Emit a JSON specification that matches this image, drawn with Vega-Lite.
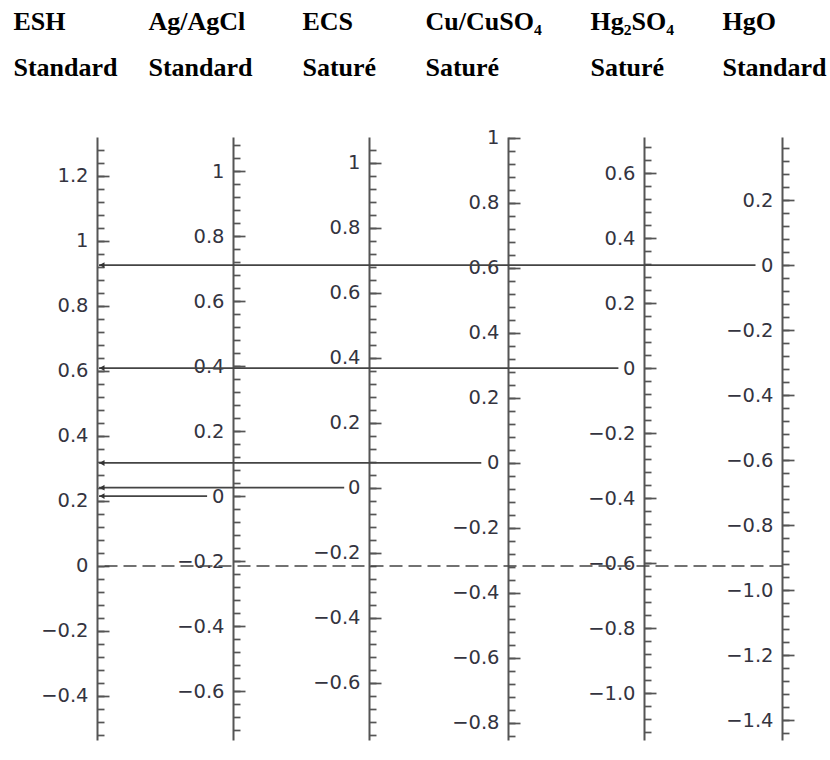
{
  "$schema": "https://vega.github.io/schema/vega-lite/v6.json",
  "width": 830,
  "height": 603,
  "autosize": "none",
  "padding": {"left": 0, "top": 137, "right": 0, "bottom": 20},
  "background": "white",
  "config": {
    "view": {"stroke": null},
    "axisY": {
      "labelFont": "DejaVu Sans",
      "labelFontSize": 19.5,
      "labelColor": "#34343f",
      "labelAlign": "right",
      "labelBaseline": "middle",
      "labelOverlap": false,
      "tickColor": "#555555",
      "tickWidth": 1.7,
      "domainColor": "#555555",
      "domainWidth": 2,
      "grid": false,
      "titleFont": "Liberation Serif",
      "titleFontWeight": "bold",
      "titleFontSize": 26,
      "titleColor": "#000000",
      "titleAngle": 0,
      "titleAlign": "left",
      "titleBaseline": "alphabetic",
      "titleLineHeight": 46
    }
  },
  "layer": [
    {
      "data": {"values": [
        {"ref": "Ag/AgCl", "idx": 1, "esh": 0.215},
        {"ref": "ECS", "idx": 2, "esh": 0.241},
        {"ref": "Cu/CuSO4", "idx": 3, "esh": 0.317},
        {"ref": "Hg2SO4", "idx": 4, "esh": 0.609},
        {"ref": "HgO", "idx": 5, "esh": 0.926}
      ]},
      "mark": {"type": "rule", "color": "#444444", "strokeWidth": 1.7, "xOffset": -27, "x2Offset": 2},
      "encoding": {
        "x": {"field": "idx", "type": "quantitative", "scale": {"domain": [-0.70751, 5.34646], "nice": false, "zero": false}, "axis": null},
        "x2": {"datum": 0},
        "y": {"field": "esh", "type": "quantitative", "scale": {"domain": [-0.5354, 1.32], "nice": false, "zero": false}, "axis": null}
      }
    },
    {
      "data": {"values": [{"v": 0}]},
      "mark": {"type": "point", "opacity": 0},
      "encoding": {"y": {"field": "v", "type": "quantitative",
        "scale": {"domain": [-0.5354, 1.32], "nice": false, "zero": false},
        "axis": {"orient": "right", "offset": -733, "values": [-0.4, -0.2, 0, 0.2, 0.4, 0.6, 0.8, 1, 1.2], "format": ".1~f", "tickSize": 12, "labelPadding": -21,
          "title": ["ESH", "Standard"], "titleX": -84, "titleY": -108}}}
    },
    {
      "data": {"values": [{"v": 0}]},
      "mark": {"type": "point", "opacity": 0},
      "encoding": {"y": {"field": "v", "type": "quantitative",
        "scale": {"domain": [-0.5354, 1.32], "nice": false, "zero": false},
        "axis": {"orient": "right", "offset": -733, "labels": false, "domain": false, "tickSize": 7, "title": null,
          "values": [-0.52, -0.48, -0.44, -0.4, -0.36, -0.32, -0.28, -0.24, -0.2, -0.16, -0.12, -0.08, -0.04, 0, 0.04, 0.08, 0.12, 0.16, 0.2, 0.24, 0.28, 0.32, 0.36, 0.4, 0.44, 0.48, 0.52, 0.56, 0.6, 0.64, 0.68, 0.72, 0.76, 0.8, 0.84, 0.88, 0.92, 0.96, 1, 1.04, 1.08, 1.12, 1.16, 1.2, 1.24, 1.28]}}}
    },
    {
      "data": {"values": [{"v": 0}]},
      "mark": {"type": "point", "opacity": 0},
      "encoding": {"y": {"field": "v", "type": "quantitative",
        "scale": {"domain": [-0.7504, 1.105], "nice": false, "zero": false},
        "axis": {"orient": "right", "offset": -597, "values": [-0.6, -0.4, -0.2, 0, 0.2, 0.4, 0.6, 0.8, 1], "format": ".1~f", "tickSize": 12, "labelPadding": -21,
          "title": ["Ag/AgCl", "Standard"], "titleX": -85, "titleY": -108}}}
    },
    {
      "data": {"values": [{"v": 0}]},
      "mark": {"type": "point", "opacity": 0},
      "encoding": {"y": {"field": "v", "type": "quantitative",
        "scale": {"domain": [-0.7504, 1.105], "nice": false, "zero": false},
        "axis": {"orient": "right", "offset": -597, "labels": false, "domain": false, "tickSize": 7, "title": null,
          "values": [-0.72, -0.68, -0.64, -0.6, -0.56, -0.52, -0.48, -0.44, -0.4, -0.36, -0.32, -0.28, -0.24, -0.2, -0.16, -0.12, -0.08, -0.04, 0, 0.04, 0.08, 0.12, 0.16, 0.2, 0.24, 0.28, 0.32, 0.36, 0.4, 0.44, 0.48, 0.52, 0.56, 0.6, 0.64, 0.68, 0.72, 0.76, 0.8, 0.84, 0.88, 0.92, 0.96, 1, 1.04, 1.08]}}}
    },
    {
      "data": {"values": [{"v": 0}]},
      "mark": {"type": "point", "opacity": 0},
      "encoding": {"y": {"field": "v", "type": "quantitative",
        "scale": {"domain": [-0.7764, 1.079], "nice": false, "zero": false},
        "axis": {"orient": "right", "offset": -461, "values": [-0.6, -0.4, -0.2, 0, 0.2, 0.4, 0.6, 0.8, 1], "format": ".1~f", "tickSize": 12, "labelPadding": -21,
          "title": ["ECS", "Saturé"], "titleX": -67, "titleY": -108}}}
    },
    {
      "data": {"values": [{"v": 0}]},
      "mark": {"type": "point", "opacity": 0},
      "encoding": {"y": {"field": "v", "type": "quantitative",
        "scale": {"domain": [-0.7764, 1.079], "nice": false, "zero": false},
        "axis": {"orient": "right", "offset": -461, "labels": false, "domain": false, "tickSize": 7, "title": null,
          "values": [-0.76, -0.72, -0.68, -0.64, -0.6, -0.56, -0.52, -0.48, -0.44, -0.4, -0.36, -0.32, -0.28, -0.24, -0.2, -0.16, -0.12, -0.08, -0.04, 0, 0.04, 0.08, 0.12, 0.16, 0.2, 0.24, 0.28, 0.32, 0.36, 0.4, 0.44, 0.48, 0.52, 0.56, 0.6, 0.64, 0.68, 0.72, 0.76, 0.8, 0.84, 0.88, 0.92, 0.96, 1, 1.04]}}}
    },
    {
      "data": {"values": [{"v": 0}]},
      "mark": {"type": "point", "opacity": 0},
      "encoding": {"y": {"field": "v", "type": "quantitative",
        "scale": {"domain": [-0.8524, 1.003], "nice": false, "zero": false},
        "axis": {"orient": "right", "offset": -322, "values": [-0.8, -0.6, -0.4, -0.2, 0, 0.2, 0.4, 0.6, 0.8, 1], "format": ".1~f", "tickSize": 12, "labelPadding": -21,
          "title": ["Cu/CuSO₄", "Saturé"], "titleX": -83, "titleY": -108}}}
    },
    {
      "data": {"values": [{"v": 0}]},
      "mark": {"type": "point", "opacity": 0},
      "encoding": {"y": {"field": "v", "type": "quantitative",
        "scale": {"domain": [-0.8524, 1.003], "nice": false, "zero": false},
        "axis": {"orient": "right", "offset": -322, "labels": false, "domain": false, "tickSize": 7, "title": null,
          "values": [-0.84, -0.8, -0.76, -0.72, -0.68, -0.64, -0.6, -0.56, -0.52, -0.48, -0.44, -0.4, -0.36, -0.32, -0.28, -0.24, -0.2, -0.16, -0.12, -0.08, -0.04, 0, 0.04, 0.08, 0.12, 0.16, 0.2, 0.24, 0.28, 0.32, 0.36, 0.4, 0.44, 0.48, 0.52, 0.56, 0.6, 0.64, 0.68, 0.72, 0.76, 0.8, 0.84, 0.88, 0.92, 0.96, 1]}}}
    },
    {
      "data": {"values": [{"v": 0}]},
      "mark": {"type": "point", "opacity": 0},
      "encoding": {"y": {"field": "v", "type": "quantitative",
        "scale": {"domain": [-1.1444, 0.711], "nice": false, "zero": false},
        "axis": {"orient": "right", "offset": -186, "values": [-1, -0.8, -0.6, -0.4, -0.2, 0, 0.2, 0.4, 0.6],
          "labelExpr": "datum.value <= -1 ? format(datum.value, '.1f') : format(datum.value, '.1~f')", "tickSize": 12, "labelPadding": -21,
          "title": ["Hg₂SO₄", "Saturé"], "titleX": -54, "titleY": -108}}}
    },
    {
      "data": {"values": [{"v": 0}]},
      "mark": {"type": "point", "opacity": 0},
      "encoding": {"y": {"field": "v", "type": "quantitative",
        "scale": {"domain": [-1.1444, 0.711], "nice": false, "zero": false},
        "axis": {"orient": "right", "offset": -186, "labels": false, "domain": false, "tickSize": 7, "title": null,
          "values": [-1.12, -1.08, -1.04, -1, -0.96, -0.92, -0.88, -0.84, -0.8, -0.76, -0.72, -0.68, -0.64, -0.6, -0.56, -0.52, -0.48, -0.44, -0.4, -0.36, -0.32, -0.28, -0.24, -0.2, -0.16, -0.12, -0.08, -0.04, 0, 0.04, 0.08, 0.12, 0.16, 0.2, 0.24, 0.28, 0.32, 0.36, 0.4, 0.44, 0.48, 0.52, 0.56, 0.6, 0.64, 0.68]}}}
    },
    {
      "data": {"values": [{"v": 0}]},
      "mark": {"type": "point", "opacity": 0},
      "encoding": {"y": {"field": "v", "type": "quantitative",
        "scale": {"domain": [-1.4614, 0.394], "nice": false, "zero": false},
        "axis": {"orient": "right", "offset": -48, "values": [-1.4, -1.2, -1, -0.8, -0.6, -0.4, -0.2, 0, 0.2],
          "labelExpr": "datum.value <= -1 ? format(datum.value, '.1f') : format(datum.value, '.1~f')", "tickSize": 12, "labelPadding": -21,
          "title": ["HgO", "Standard"], "titleX": -60, "titleY": -108}}}
    },
    {
      "data": {"values": [{"v": 0}]},
      "mark": {"type": "point", "opacity": 0},
      "encoding": {"y": {"field": "v", "type": "quantitative",
        "scale": {"domain": [-1.4614, 0.394], "nice": false, "zero": false},
        "axis": {"orient": "right", "offset": -48, "labels": false, "domain": false, "tickSize": 7, "title": null,
          "values": [-1.44, -1.4, -1.36, -1.32, -1.28, -1.24, -1.2, -1.16, -1.12, -1.08, -1.04, -1, -0.96, -0.92, -0.88, -0.84, -0.8, -0.76, -0.72, -0.68, -0.64, -0.6, -0.56, -0.52, -0.48, -0.44, -0.4, -0.36, -0.32, -0.28, -0.24, -0.2, -0.16, -0.12, -0.08, -0.04, 0, 0.04, 0.08, 0.12, 0.16, 0.2, 0.24, 0.28, 0.32, 0.36]}}}
    },
    {
      "data": {"values": [
        {"ref": "Ag/AgCl", "idx": 1, "esh": 0.215},
        {"ref": "ECS", "idx": 2, "esh": 0.241},
        {"ref": "Cu/CuSO4", "idx": 3, "esh": 0.317},
        {"ref": "Hg2SO4", "idx": 4, "esh": 0.609},
        {"ref": "HgO", "idx": 5, "esh": 0.926}
      ]},
      "mark": {"type": "point", "shape": "triangle-left", "filled": true, "color": "#333333", "size": 34, "opacity": 1, "xOffset": 5},
      "encoding": {
        "x": {"datum": 0, "type": "quantitative", "scale": {"domain": [-0.70751, 5.34646], "nice": false, "zero": false}, "axis": null},
        "y": {"field": "esh", "type": "quantitative", "scale": {"domain": [-0.5354, 1.32], "nice": false, "zero": false}, "axis": null}
      }
    },
    {
      "data": {"values": [{"esh": 0, "idx": 5}]},
      "mark": {"type": "rule", "color": "#444444", "strokeWidth": 1.7, "strokeDash": [13, 6], "x2Offset": 2},
      "encoding": {
        "x": {"field": "idx", "type": "quantitative", "scale": {"domain": [-0.70751, 5.34646], "nice": false, "zero": false}, "axis": null},
        "x2": {"datum": 0},
        "y": {"field": "esh", "type": "quantitative", "scale": {"domain": [-0.5354, 1.32], "nice": false, "zero": false}, "axis": null}
      }
    }
  ],
  "resolve": {"scale": {"y": "independent"}, "axis": {"y": "independent"}}
}
